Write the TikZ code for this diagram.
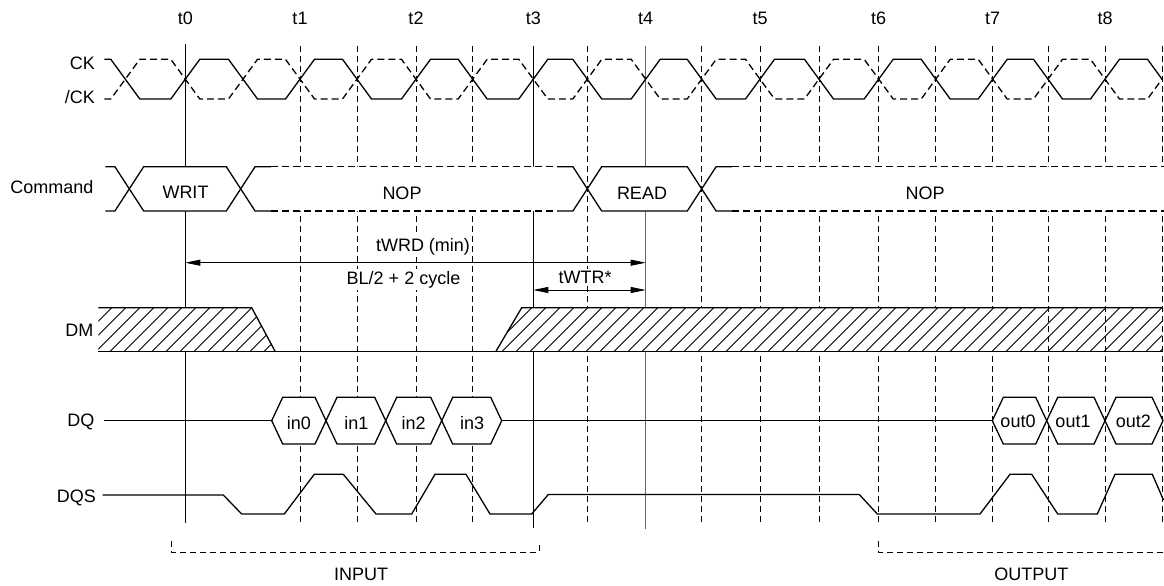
\documentclass[tikz,border=0pt]{standalone}
\usepackage{fontspec}
\setmainfont{Liberation Sans}
\usetikzlibrary{arrows.meta}
\begin{document}
\begin{tikzpicture}[x=1pt,y=-1pt,
  lab/.style={font=\fontsize{18}{21}\selectfont, inner sep=0pt, anchor=base},
  rlab/.style={font=\fontsize{18}{21}\selectfont, inner sep=0pt, anchor=base east},
  wlab/.style={font=\fontsize{18}{21}\selectfont, inner sep=2pt, anchor=base, fill=white},
  sig/.style={line width=1.3pt, line join=miter},
  sigdash/.style={line width=1.3pt, dash pattern=on 7pt off 4pt},
  vsolid/.style={line width=1pt},
  vdash/.style={line width=1pt, dash pattern=on 6pt off 4pt},
  dim/.style={line width=0.8pt, {Triangle[length=15pt,width=6pt]}-{Triangle[length=15pt,width=6pt]}},
  bracket/.style={line width=0.8pt, dash pattern=on 6pt off 4pt},
  hatch/.style={line width=0.9pt}
]
\useasboundingbox (0,0) rectangle (1164,586);

% ---------- vertical time lines ----------
\draw[vsolid] (185.3,44) -- (185.3,523.3);
\draw[vsolid] (533.3,46) -- (533.3,527.7);
\draw[vsolid, black!60] (645.7,46) -- (645.7,529.3);
\foreach \x in {300,357,416,472.7,587.3,701.7,760,819,878.7,935.7,992.7,1048,1105,1162}
  \draw[vdash] (\x,46) -- (\x,524);

% ---------- Command band ----------
% leading X
\draw[sig] (105.3,166.7) -- (114.9,166.7) -- (129.3,188.85);
\draw[sig] (105.3,211) -- (114.9,211) -- (129.3,188.85);
% WRIT
\draw[sig, fill=white] (129.3,188.85) -- (143.7,166.7) -- (226.3,166.7) -- (240.7,188.85) -- (226.3,211) -- (143.7,211) -- cycle;
% NOP 1
\fill[white] (240.7,188.85) -- (255.1,166.7) -- (572.9,166.7) -- (587.3,188.85) -- (572.9,211) -- (255.1,211) -- cycle;
\draw[sig] (271,166.7) -- (255.1,166.7) -- (240.7,188.85) -- (255.1,211) -- (271,211);
\draw[sig] (557,166.7) -- (572.9,166.7) -- (587.3,188.85) -- (572.9,211) -- (557,211);
\draw[sigdash] (271,166.7) -- (557,166.7);
\draw[sigdash] (271,211) -- (557,211);
% READ
\draw[sig, fill=white] (587.3,188.85) -- (601.7,166.7) -- (687.3,166.7) -- (701.7,188.85) -- (687.3,211) -- (601.7,211) -- cycle;
% NOP 2
\fill[white] (701.7,188.85) -- (716.1,166.7) -- (1164,166.7) -- (1164,211) -- (716.1,211) -- cycle;
\draw[sig] (732,166.7) -- (716.1,166.7) -- (701.7,188.85) -- (716.1,211) -- (732,211);
\draw[sigdash] (732,166.7) -- (1164,166.7);
\draw[sigdash] (732,211) -- (1164,211);

\node[lab] (cmdwrit) at (185.5,198.5) {WRIT};
\node[lab] (cmdnop1) at (402,199.5) {NOP};
\node[lab] (cmdread) at (642,199) {READ};
\node[lab] (cmdnop2) at (925,199.5) {NOP};

% ---------- timing dimensions ----------
\node[wlab] (twrd) at (423,251.5) {tWRD (min)};
\node[wlab] (blcyc) at (403.5,284) {BL/2 + 2 cycle};
\node[wlab] (twtr) at (585,283.3) {tWTR*};
\coordinate (wrdL) at (185.3,262.7);
\coordinate (wrdR) at (645.7,262.7);
\coordinate (wtrL) at (533.3,290);
\coordinate (wtrR) at (645.7,290);
\draw[dim] (wrdL) -- (wrdR);
\draw[dim] (wtrL) -- (wtrR);

% ---------- DM ----------
\fill[white] (98.3,307.7) -- (251.7,307.7) -- (275.3,351.7) -- (98.3,351.7) -- cycle;
\fill[white] (521.7,307.7) -- (1162,307.7) -- (1162,351.7) -- (495.7,351.7) -- cycle;
\begin{scope}
  \clip (98.3,307.7) -- (251.7,307.7) -- (275.3,351.7) -- (98.3,351.7) -- cycle
        (521.7,307.7) -- (1162,307.7) -- (1162,351.7) -- (495.7,351.7) -- cycle;
  \foreach \k in {0,...,80}
    \draw[hatch] ({53.7+14*\k},351.7) -- ++(44,-44);
\end{scope}
\begin{scope}
  \clip (1040,307.7) rectangle (1170,351.7);
  \foreach \x in {1048,1105,1162}
    \draw[vdash] (\x,46) -- (\x,524);
\end{scope}
\draw[sig] (98.3,307.7) -- (251.7,307.7) -- (275.3,351.7);
\draw[sig] (98.3,351.7) -- (1162,351.7);
\draw[sig] (495.7,351.7) -- (521.7,307.7) -- (1162,307.7);

% ---------- DQ ----------
\draw[sig] (104.3,420.7) -- (271.7,420.7);
\draw[sig] (501.7,420.7) -- (992.3,420.7);
\foreach \a/\b in {271.7/326, 326/385.7, 385.7/441.7, 441.7/501.7, 992.3/1046.7, 1046.7/1105, 1105/1163}
  \draw[sig, fill=white] (\a,420.7) -- ({\a+11},397.3) -- ({\b-11},397.3) -- (\b,420.7) -- ({\b-11},444) -- ({\a+11},444) -- cycle;
\node[lab] (in0) at (298.9,429.5) {in0};
\node[lab] (in1) at (356.5,429.5) {in1};
\node[lab] (in2) at (413.7,429.5) {in2};
\node[lab] (in3) at (472.2,429.5) {in3};
\node[lab] (out0) at (1018,427) {out0};
\node[lab] (out1) at (1073,427) {out1};
\node[lab] (out2) at (1133.3,427) {out2};

% ---------- DQS ----------
\draw[sig] (102.7,495) -- (223.3,495) -- (241.7,514) -- (284.3,514) -- (314.3,474.3)
  -- (343.3,474.3) -- (376,514) -- (411.7,514) -- (435,474.3) -- (466,474.3)
  -- (490,514) -- (531.7,514) -- (548.3,494.5) -- (859.3,494.5) -- (877.3,514)
  -- (980,514) -- (1010,474.3) -- (1031.7,474.3) -- (1057.7,514) -- (1097.3,514)
  -- (1115,474.3) -- (1152.3,474.3) -- (1163.5,500);

% ---------- CK and /CK ----------
\draw[sig] (104.3,59.3) -- (110.8,59.3) -- (139.8,99) -- (170.8,99) -- (199.8,59.3)
  -- (228.5,59.3) -- (257.5,99) -- (285.5,99) -- (314.5,59.3)
  -- (342.5,59.3) -- (371.5,99) -- (401.5,99) -- (430.5,59.3)
  -- (458.2,59.3) -- (487.2,99) -- (518.8,99) -- (547.8,59.3)
  -- (572.8,59.3) -- (601.8,99) -- (631.2,99) -- (660.2,59.3)
  -- (687.2,59.3) -- (716.2,99) -- (745.5,99) -- (774.5,59.3)
  -- (804.5,59.3) -- (833.5,99) -- (864.2,99) -- (893.2,59.3)
  -- (921.2,59.3) -- (950.2,99) -- (978.2,99) -- (1007.2,59.3)
  -- (1033.5,59.3) -- (1062.5,99) -- (1090.5,99) -- (1119.5,59.3)
  -- (1147.5,59.3) -- (1162,79.15);
\draw[sigdash] (104.3,99) -- (110.8,99) -- (139.8,59.3) -- (170.8,59.3) -- (199.8,99)
  -- (228.5,99) -- (257.5,59.3) -- (285.5,59.3) -- (314.5,99)
  -- (342.5,99) -- (371.5,59.3) -- (401.5,59.3) -- (430.5,99)
  -- (458.2,99) -- (487.2,59.3) -- (518.8,59.3) -- (547.8,99)
  -- (572.8,99) -- (601.8,59.3) -- (631.2,59.3) -- (660.2,99)
  -- (687.2,99) -- (716.2,59.3) -- (745.5,59.3) -- (774.5,99)
  -- (804.5,99) -- (833.5,59.3) -- (864.2,59.3) -- (893.2,99)
  -- (921.2,99) -- (950.2,59.3) -- (978.2,59.3) -- (1007.2,99)
  -- (1033.5,99) -- (1062.5,59.3) -- (1090.5,59.3) -- (1119.5,99)
  -- (1147.5,99) -- (1162,79.15);

% ---------- time labels ----------
\node[lab] (t0) at (185.3,25) {t0};
\node[lab] (t1) at (300,25) {t1};
\node[lab] (t2) at (416,25) {t2};
\node[lab] (t3) at (533.3,25) {t3};
\node[lab] (t4) at (645.7,25) {t4};
\node[lab] (t5) at (760,25) {t5};
\node[lab] (t6) at (878.7,25) {t6};
\node[lab] (t7) at (992.7,25) {t7};
\node[lab] (t8) at (1105,25) {t8};

% ---------- signal names ----------
\node[rlab] (lck) at (95,69.3) {CK};
\node[rlab] (lnck) at (95,103) {/CK};
\node[rlab] (lcmd) at (93.5,193.3) {Command};
\node[rlab] (ldm) at (93.5,336.7) {DM};
\node[rlab] (ldq) at (94.5,426.7) {DQ};
\node[rlab] (ldqs) at (96,502.7) {DQS};

% ---------- brackets ----------
\draw[bracket] (171.7,541) -- (171.7,552.3) -- (539.3,552.3) -- (539.3,543.3);
\draw[bracket] (878.3,541) -- (878.3,552.3) -- (1164,552.3);
\node[lab] (input) at (361,580) {INPUT};
\node[lab] (output) at (1031.3,580) {OUTPUT};
\end{tikzpicture}
\end{document}
